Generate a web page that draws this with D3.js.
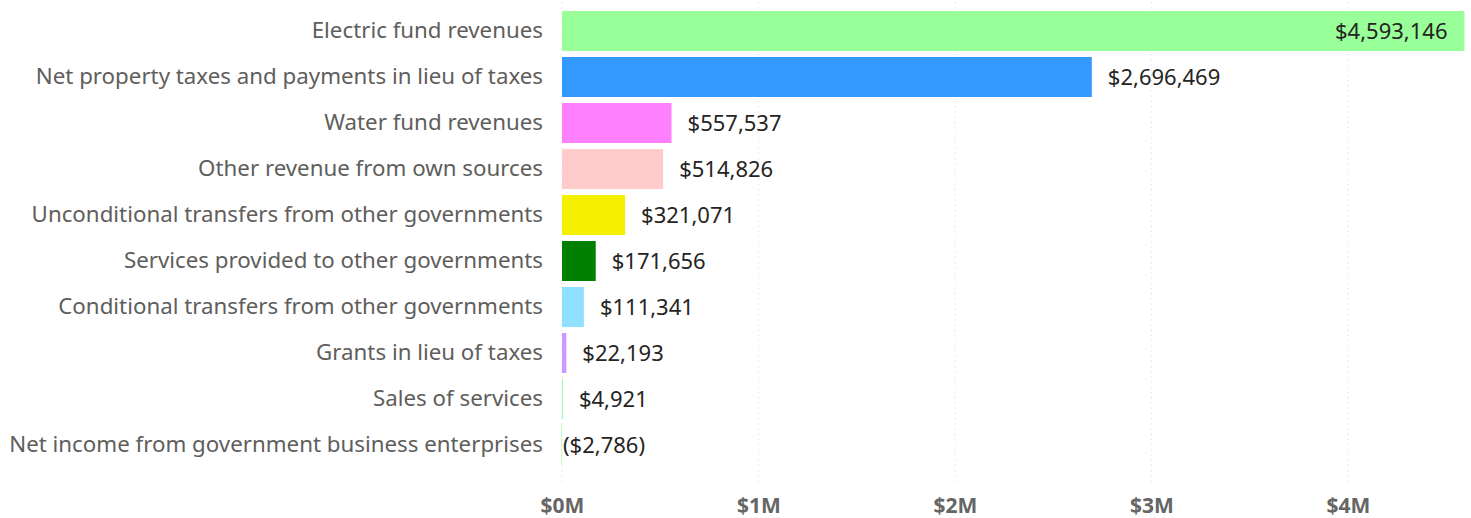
<!DOCTYPE html>
<html>
<head>
<meta charset="utf-8">
<script src="https://cdn.jsdelivr.net/npm/d3@7"></script>
<style>
  body { margin: 0; background: #fff; }
  svg { display: block; }
  svg text { font-family: "Noto Sans", "Open Sans", sans-serif; }
</style>
</head>
<body>
<script>
// revenue categories and values
const categories = [
    "Electric fund revenues",
    "Net property taxes and payments in lieu of taxes",
    "Water fund revenues",
    "Other revenue from own sources",
    "Unconditional transfers from other governments",
    "Services provided to other governments",
    "Conditional transfers from other governments",
    "Grants in lieu of taxes",
    "Sales of services",
    "Net income from government business enterprises"
];
const values = [4593146, 2696469, 557537, 514826, 321071, 171656, 111341, 22193, 4921, -2786];
const colors = ["#99FF99", "#3399FF", "#FF80FF", "#FFCCCC", "#F5F000", "#008000", "#8FE1FF", "#CC99FF", "#99FF99", "#99FF99"];
const xTicks = [0, 1000000, 2000000, 3000000, 4000000];

let width = 1471;
let height = 518;

let margin = {
    top: 8,
    bottom: 35,
    left: 562,
    right: 7
};

const data = categories.map((c, i) => ({ name: c, value: values[i], color: colors[i] }));

const svg = d3.select("body")
    .append("svg")
    .attr("width", width)
    .attr("height", height);

// scales
let xScale = d3.scaleLinear()
    .domain([0, 4593146])
    .range([margin.left, 1464.5]);

let yScale = d3.scaleBand()
    .domain(categories)
    .range([margin.top, margin.top + 46 * categories.length])
    .paddingInner(6 / 46)
    .paddingOuter(3 / 46);

// dotted gridlines
svg.append("g")
    .selectAll("line")
    .data(xTicks)
    .enter()
    .append("line")
    .attr("x1", d => xScale(d))
    .attr("x2", d => xScale(d))
    .attr("y1", 2)
    .attr("y2", 484)
    .attr("stroke", "#e2e2ee")
    .attr("stroke-width", 1.2)
    .attr("stroke-dasharray", "1.2,4");

// x axis
const xAxis = svg.append("g")
    .attr("transform", `translate(0,${height - margin.bottom})`)
    .call(d3.axisBottom(xScale)
        .tickValues(xTicks)
        .tickSize(0)
        .tickPadding(0)
        .tickFormat(d => "$" + d / 1e6 + "M"));
xAxis.select(".domain").remove();
xAxis.selectAll("text")
    .attr("dy", "0.35em")
    .attr("y", 23)
    .style("font-size", "21px")
    .style("font-weight", "bold")
    .style("fill", "#666666");

// category labels
const yAxis = svg.append("g")
    .attr("transform", `translate(${margin.left - 19},0)`)
    .call(d3.axisLeft(yScale).tickSize(0).tickPadding(0));
yAxis.select(".domain").remove();
yAxis.selectAll("text")
    .style("font-size", "22.3px")
    .style("fill", "#605E5C");

// bars
svg.selectAll("rect.bar")
    .data(data)
    .enter()
    .append("rect")
    .attr("class", "bar")
    .attr("x", d => Math.min(xScale(0), xScale(d.value)))
    .attr("y", d => yScale(d.name))
    .attr("width", d => Math.abs(xScale(d.value) - xScale(0)))
    .attr("height", yScale.bandwidth())
    .attr("fill", d => d.color);

// value labels
const fmt = d3.format(",");
svg.selectAll("text.val")
    .data(data)
    .enter()
    .append("text")
    .attr("class", "val")
    .attr("x", (d, i) => i === 0 ? xScale(d.value) - 17 : (d.value < 0 ? xScale(0) + 1 : xScale(d.value) + 16))
    .attr("y", d => yScale(d.name) + yScale.bandwidth() / 2)
    .attr("dy", "0.35em")
    .attr("text-anchor", (d, i) => i === 0 ? "end" : "start")
    .style("font-size", "22px")
    .style("fill", "#252423")
    .text(d => d.value < 0 ? "($" + fmt(-d.value) + ")" : "$" + fmt(d.value));
</script>
</body>
</html>
